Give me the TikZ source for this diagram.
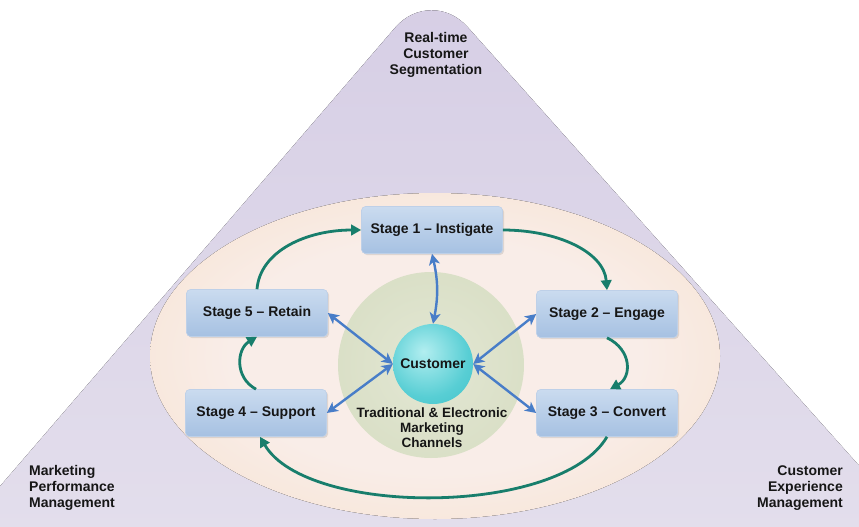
\documentclass[tikz,border=0pt]{standalone}
\usepackage{fontspec}
\setmainfont{Liberation Sans}
\usetikzlibrary{arrows.meta,shadows}

\definecolor{lavtop}{RGB}{214,206,229}
\definecolor{lavmid}{RGB}{238,236,243}
\definecolor{lavbot}{RGB}{227,222,236}
\definecolor{peachin}{RGB}{249,237,232}
\definecolor{peachout}{RGB}{245,215,183}
\definecolor{sagein}{RGB}{227,231,212}
\definecolor{sageout}{RGB}{193,203,163}
\definecolor{cyanin}{RGB}{178,238,240}
\definecolor{cyanmid}{RGB}{88,206,212}
\definecolor{cyanout}{RGB}{40,182,192}
\definecolor{boxtop}{RGB}{202,219,239}
\definecolor{boxbot}{RGB}{166,193,226}
\definecolor{boxedge}{RGB}{190,208,232}
\definecolor{flowgreen}{RGB}{24,126,108}
\definecolor{linkblue}{RGB}{72,125,200}
\definecolor{ink}{RGB}{22,22,22}

% soft glows for the ring, the channel disc and the customer ball
\pgfdeclareradialshading{peachglow}{\pgfpoint{0bp}{0bp}}{color(0bp)=(peachin); color(18bp)=(peachin); color(50bp)=(peachout); color(80bp)=(peachout)}
\pgfdeclareradialshading{sageglow}{\pgfpoint{0bp}{0bp}}{color(0bp)=(sagein); color(28bp)=(sagein!70!sageout); color(50bp)=(sageout); color(80bp)=(sageout)}
\pgfdeclareradialshading{cyanball}{\pgfpoint{-6bp}{8bp}}{color(0bp)=(cyanin); color(26bp)=(cyanmid); color(58bp)=(cyanout); color(80bp)=(cyanout)}

\tikzset{
  lbl/.style={text=ink, font=\fontsize{14}{16}\selectfont\bfseries, inner sep=0pt},
  stagebox/.style={lbl, rectangle, rounded corners=4pt, draw=boxedge, line width=0.6pt,
    top color=boxtop, bottom color=boxbot, minimum width=141pt, minimum height=47pt,
    drop shadow={opacity=0.22, shadow xshift=1.5pt, shadow yshift=-1.5pt}},
  flow/.style={draw=flowgreen, line width=2.8pt, -{Triangle[length=10pt,width=10.5pt]}},
  link/.style={draw=linkblue, line width=2.4pt,
    {Stealth[length=11pt,width=11pt,inset=3pt]}-{Stealth[length=11pt,width=11pt,inset=3pt]}},
}

\begin{document}
\begin{tikzpicture}[x=1pt, y=-1pt]
\useasboundingbox (0,0) rectangle (859,527);

% outer triangle
\fill[top color=lavtop, middle color=lavmid, bottom color=lavbot, rounded corners=55pt]
  (431,-14) -- (921,535) -- (-42,535) -- cycle;

% ring
\fill[shading=peachglow] (435,356) ellipse [x radius=285, y radius=163];

% channel disc and customer ball
\node[circle, minimum size=186pt, inner sep=0pt, shading=sageglow] (hub) at (431,365) {};
\node[lbl, circle, minimum size=80pt, shading=cyanball] (cust) at (433,364) {Customer};
\node[lbl, align=center, font=\fontsize{13.5}{15}\selectfont\bfseries] (chan) at (432,428)
  {Traditional \& Electronic\\Marketing\\Channels};

% corner labels
\node[lbl, align=center] (seg) at (436,55) {Real-time\\Customer\\Segmentation};
\node[lbl, align=left, anchor=west] (mpm) at (29,488) {Marketing\\Performance\\Management};
\node[lbl, align=right, anchor=east] (cem) at (843,488) {Customer\\Experience\\Management};

% stages
\node[stagebox] (s1) at (432,230) {Stage 1 -- Instigate};
\node[stagebox] (s2) at (607,314) {Stage 2 -- Engage};
\node[stagebox] (s3) at (607,413) {Stage 3 -- Convert};
\node[stagebox] (s4) at (256,413) {Stage 4 -- Support};
\node[stagebox] (s5) at (257,313) {Stage 5 -- Retain};

% lifecycle flow
\draw[flow] (s5.north) .. controls +(3,-38) and +(-55,0) .. (s1.west);
\draw[flow] (s1.east) .. controls +(55,0) and +(-3,-38) .. (s2.north);
\draw[flow] (s2.south) .. controls +(25,12) and +(22,-12) .. ([xshift=3pt]s3.north);
\draw[flow] (s3.south) .. controls +(-47,80) and +(47,80) .. ([xshift=4pt]s4.south);
\draw[flow] (s4.north) .. controls +(-22,-12) and +(-20,12) .. (s5.south);

% customer touch points
\draw[link] (s1.south) to[bend left=12] (cust.north);
\draw[link] (s5.east) -- (cust.west);
\draw[link] (s4.east) -- (cust.west);
\draw[link] (s2.west) -- (cust.east);
\draw[link] (s3.west) -- (cust.east);
\end{tikzpicture}
\end{document}
